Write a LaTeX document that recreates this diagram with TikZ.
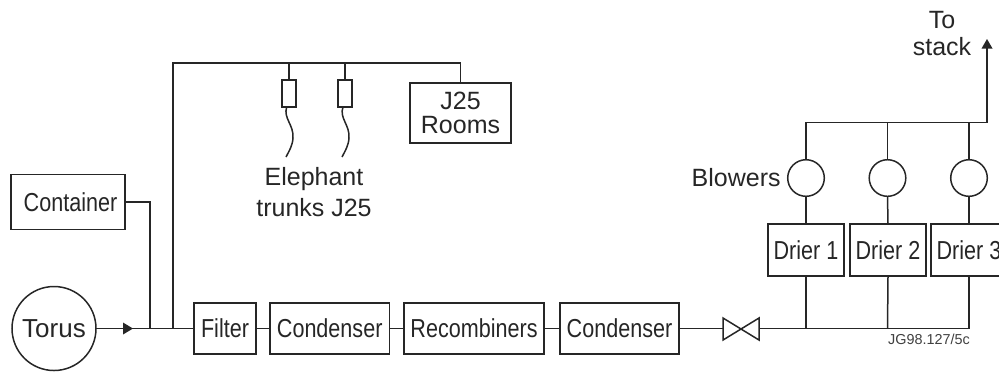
\documentclass[tikz,border=0pt]{standalone}
\usepackage{fontspec}
\setmainfont{Liberation Sans}
\newfontfamily\narrowfont[FakeStretch=0.83]{Liberation Sans}
\usetikzlibrary{arrows.meta}

\tikzset{
  pipe/.style={line width=0.75pt,draw=black!85},
  unitbox/.style={pipe,rectangle,inner sep=0pt,outer sep=0pt,align=center,text=black!85,
    font=\narrowfont\fontsize{13}{13}\selectfont},
  bigtext/.style={align=center,text=black!85,inner sep=0pt,
    font=\fontsize{12.5}{15.5}\selectfont},
  blower/.style={pipe,circle,minimum size=18.3pt,inner sep=0pt,outer sep=0pt},
  trunkbox/.style={pipe,rectangle,minimum width=7pt,minimum height=13.5pt,inner sep=0pt,outer sep=0pt},
}

\begin{document}
\begin{tikzpicture}[x=0.5pt,y=-0.5pt]
  \useasboundingbox (0,0) rectangle (999,372);

  % left hand side
  \node[pipe,circle,minimum size=42pt,inner sep=0pt,outer sep=0pt,bigtext,draw,font=\fontsize{13}{15}\selectfont] (torus) at (54,328.5) {Torus};
  \node[unitbox,minimum width=57pt,minimum height=27.7pt] (container) at (68,202) {\kern2.5pt Container};
  \coordinate (inlet) at (150,328.5);
  \coordinate (branch) at (173,328.5);

  % process line
  \node[unitbox,minimum width=31pt,minimum height=25.5pt] (filter) at (225,328.5) {Filter};
  \node[unitbox,minimum width=59.6pt,minimum height=25.5pt] (condA) at (329.7,328.5) {Condenser};
  \node[unitbox,minimum width=70pt,minimum height=25.5pt] (recomb) at (474,328.5) {Recombiners};
  \node[unitbox,minimum width=59.5pt,minimum height=25.5pt] (condB) at (619.5,328.5) {Condenser};

  \draw[pipe] (torus) -- (inlet) -- (branch) -- (filter);
  \draw[pipe] (filter) -- (condA);
  \draw[pipe] (condA) -- (recomb);
  \draw[pipe] (recomb) -- (condB);
  \fill[black!85] (123,322.5) -- (133,328.5) -- (123,334.5) -- cycle;
  \draw[pipe] (container.east) -| (inlet);

  % J25 branch
  \node[unitbox,minimum width=50.5pt,minimum height=30pt,font=\fontsize{12.5}{12.3}\selectfont] (rooms) at (460.5,113) {J25\\Rooms};
  \node[trunkbox] (trunkA) at (289,93.5) {};
  \node[trunkbox] (trunkB) at (345,93.5) {};
  \draw[pipe] (branch) |- (rooms.north |- 0,63) -- (rooms.north);
  \draw[pipe] (trunkA.north) -- (trunkA.north |- 0,63);
  \draw[pipe] (trunkB.north) -- (trunkB.north |- 0,63);
  \draw[pipe] (286.7,107) .. controls (283,118) and (294,125) .. (293,138) .. controls (292.5,146) and (289,151) .. (286,157);
  \draw[pipe] (343,107) .. controls (339,118) and (350,125) .. (349,138) .. controls (348.5,146) and (345,151) .. (342,157);
  \node[bigtext] (trunklabel) at (314,192.5) {Elephant\\trunks J25};

  % valve
  \coordinate (valveL) at (723,328.5);
  \coordinate (valveR) at (759,328.5);
  \draw[pipe,line join=miter] (723,318) -- (759,340) -- (759,318) -- (723,340) -- cycle;
  \draw[pipe] (condB) -- (valveL);

  % driers and blowers
  \node[unitbox,minimum width=38pt,minimum height=26pt] (drierA) at (806,250) {Drier 1};
  \node[unitbox,minimum width=38pt,minimum height=26pt] (drierB) at (888,250) {Drier 2};
  \node[unitbox,minimum width=38pt,minimum height=26pt] (drierC) at (969,250) {Drier 3};
  \node[blower] (blowA) at (806,178) {};
  \node[blower] (blowB) at (887.5,178) {};
  \node[blower] (blowC) at (969,178) {};
  \coordinate (busA) at (806,328.5);
  \coordinate (busB) at (887.5,328.5);
  \coordinate (busC) at (969,328.5);
  \draw[pipe] (valveR) -- (busA) -- (busB) -- (busC);
  \foreach \n/\m/\b in {drierA/blowA/busA,drierB/blowB/busB,drierC/blowC/busC} {
    \draw[pipe] (\n.south) -- (\b);
    \draw[pipe] (\n.north) -- (\m.south);
  }
  \coordinate (stacktop) at (987,42);
  \draw[pipe] (blowA.north) |- (987,122.7) -- (stacktop);
  \draw[pipe] (blowB.north) -- (887.5,122.7);
  \draw[pipe] (blowC.north) -- (969,122.7);
  \fill[black!85] (981.5,48.5) -- (987,39) -- (992.5,48.5) -- cycle;

  % labels
  \node[bigtext,font=\fontsize{12.5}{13.5}\selectfont] (stacklabel) at (942,33.5) {To\\stack};
  \node[bigtext,anchor=east] (blowlabel) at (781,178) {Blowers};
  \node[inner sep=0pt,text=black!75,font=\fontsize{7.2}{7.2}\selectfont] (jglabel) at (929,339) {JG98.127/5c};
\end{tikzpicture}
\end{document}
